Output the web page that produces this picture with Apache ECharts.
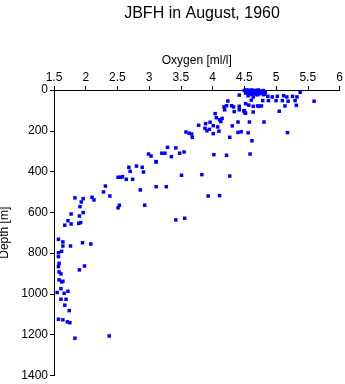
<!DOCTYPE html>
<html>
<head>
<meta charset="utf-8">
<script src="https://cdn.jsdelivr.net/npm/echarts@6/dist/echarts.min.js"></script>
<style>
html,body{margin:0;padding:0;background:#fff;}
#chart{width:345px;height:384px;}
</style>
</head>
<body>
<div id="chart"></div>
<script>
var titleText = "JBFH in August, 1960";
var xName = "Oxygen [ml/l]";
var yName = "Depth [m]";
var xTicks = [1.5, 2, 2.5, 3, 3.5, 4, 4.5, 5, 5.5, 6];
var yTicks = [0, 200, 400, 600, 800, 1000, 1200, 1400];

// Oxygen values [ml/l]
var oxygen = [
  // near-surface cluster
  4.50,4.53,4.55,4.57,4.58,4.60,4.62,4.63,4.65,4.66,4.68,4.70,4.72,4.74,4.76,4.78,4.80,4.82,4.52,4.60,4.69,4.55,4.75,4.62,
  4.42,4.56,4.64,4.71,4.80,4.83,4.87,4.94,5.02,5.12,5.17,5.26,5.33,5.38,
  // 50-120 m
  4.24,4.61,4.79,4.88,5.00,5.10,5.19,5.30,5.60,5.32,5.14,5.05,
  4.52,4.57,4.64,4.73,4.18,4.19,4.22,4.30,4.33,4.34,4.42,4.42,4.49,4.51,4.71,4.77,4.64,4.50,4.52,
  // 110-250 m
  4.04,4.06,4.11,4.15,4.13,3.96,4.01,4.08,3.89,3.88,4.01,4.10,3.91,3.95,3.78,3.58,3.63,3.67,3.68,4.27,4.62,5.18,
  4.40,4.58,4.81,4.31,4.40,4.45,4.56,
  // 250-650 m
  3.29,3.42,3.55,3.48,3.20,3.25,3.35,3.03,3.11,4.02,4.22,4.59,3.51,3.83,4.27,3.11,3.27,3.93,4.11,3.42,3.56,
  2.99,3.11,2.68,2.70,2.80,2.89,2.91,2.51,2.55,2.58,2.64,2.74,2.86,2.31,2.28,2.38,2.10,2.13,2.53,2.51,2.93,
  1.83,1.96,1.93,1.91,1.96,1.90,1.77,
  // deep
  1.72,1.67,1.77,1.89,1.92,
  1.57,1.64,1.64,1.76,1.95,2.08,1.62,1.57,1.57,1.58,1.57,1.98,1.90,
  1.58,1.61,1.58,1.62,1.64,1.61,1.55,1.66,1.72,
  1.61,1.69,1.67,1.74,1.57,1.64,1.71,1.75,1.83,2.37
];
// Depth values [m]
var depth = [
  2,0,5,1,8,3,0,12,4,15,2,8,0,18,5,12,3,20,15,18,22,12,10,22,
  25,28,34,23,23,11,31,34,31,28,34,31,34,11,
  54,50,52,52,52,52,55,52,55,75,78,104,
  67,74,80,80,83,97,77,77,83,106,80,97,103,113,78,78,108,101,114,
  116,136,146,139,155,158,175,181,165,188,214,202,200,193,173,206,212,216,232,232,249,209,
  157,157,157,176,208,205,210,
  281,284,304,310,310,310,327,324,353,317,320,314,418,415,422,474,474,520,518,637,629,
  314,351,379,399,373,379,402,428,428,425,438,438,490,471,500,520,526,539,565,578,565,
  529,533,549,572,601,618,608,
  641,663,657,654,650,
  732,745,765,765,749,755,791,798,817,850,866,863,882,
  892,902,931,941,938,974,993,997,987,
  1026,1026,1055,1082,1124,1127,1137,1141,1217,1206
];

var points = oxygen.map(function (o, i) { return [o, depth[i]]; });

var chart = echarts.init(document.getElementById('chart'), null, {renderer: 'canvas'});
var axisColor = '#000';
var fontFam = '"Liberation Sans", Arial, Helvetica, sans-serif';
chart.setOption({
  animation: false,
  backgroundColor: '#fff',
  title: {
    text: titleText,
    left: 197,
    textAlign: 'center',
    top: 1,
    textStyle: {fontFamily: fontFam, fontSize: 16, fontWeight: 'normal', color: '#000'}
  },
  grid: {left: 54, right: 5.5, top: 90, bottom: 8.5, containLabel: false, outerBoundsMode: 'none'},
  xAxis: {
    type: 'value',
    position: 'top',
    min: xTicks[0],
    max: xTicks[xTicks.length - 1],
    interval: 0.5,
    name: xName,
    nameLocation: 'middle',
    nameGap: 23,
    nameTextStyle: {fontFamily: fontFam, fontSize: 12, color: '#000'},
    axisLine: {show: true, lineStyle: {color: axisColor, width: 1}},
    axisTick: {show: true, length: 4, inside: false, lineStyle: {color: axisColor}},
    axisLabel: {fontFamily: fontFam, fontSize: 12, color: '#000', margin: 6, showMinLabel: true, showMaxLabel: true,
      formatter: function (v) { return String(v); }},
    splitLine: {show: false}
  },
  yAxis: {
    type: 'value',
    inverse: true,
    min: yTicks[0],
    max: yTicks[yTicks.length - 1],
    interval: 200,
    name: yName,
    nameLocation: 'middle',
    nameGap: 37,
    nameRotate: 90,
    nameTextStyle: {fontFamily: fontFam, fontSize: 12, color: '#000'},
    axisLine: {show: true, lineStyle: {color: axisColor, width: 1}},
    axisTick: {show: true, length: 4, lineStyle: {color: axisColor}},
    axisLabel: {fontFamily: fontFam, fontSize: 12, color: '#000', margin: 6,
      formatter: function (v) { return String(v); }},
    splitLine: {show: false}
  },
  series: [{
    type: 'scatter',
    data: points,
    symbol: 'rect',
    symbolSize: 3.5,
    itemStyle: {color: '#0000ff', opacity: 1},
    emphasis: {disabled: true}
  }]
});
</script>
</body>
</html>
